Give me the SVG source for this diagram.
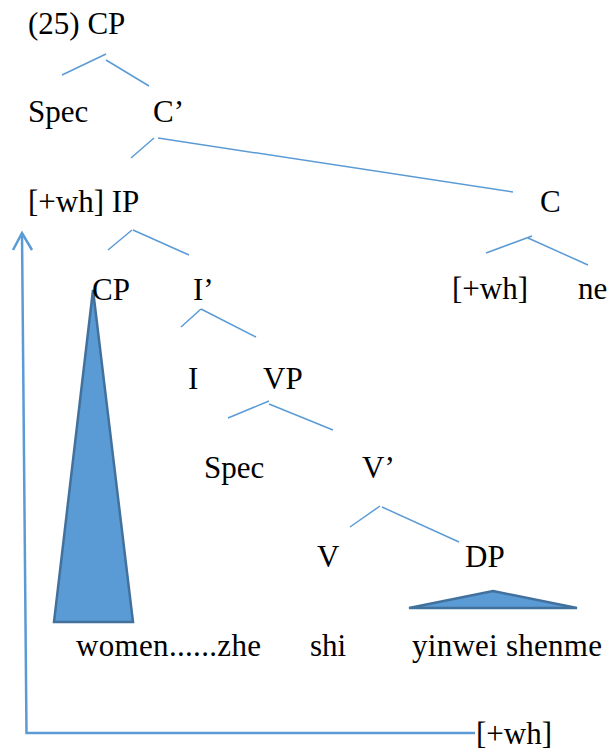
<svg xmlns="http://www.w3.org/2000/svg" width="608" height="751" viewBox="0 0 608 751">
<style>
text{font-family:"Liberation Serif","Times New Roman",serif;font-size:31px;fill:#000}
.br{stroke:#5b9bd5;stroke-width:1.5;fill:none}
.tri{fill:#5b9bd5;stroke:#41719c;stroke-width:2.5;stroke-linejoin:miter}
.mv{stroke:#5b9bd5;stroke-width:2.5;fill:none}
</style>
<rect width="608" height="751" fill="#fff"/>
<g id="connectors">
<line class="br" x1="62" y1="75" x2="106" y2="54"/>
<line class="br" x1="106" y1="60" x2="149" y2="86"/>
<line class="br" x1="131" y1="158" x2="154" y2="138"/>
<line class="br" x1="158" y1="138" x2="513" y2="192"/>
<line class="br" x1="108" y1="250" x2="132" y2="230"/>
<line class="br" x1="133" y1="230" x2="189" y2="255"/>
<line class="br" x1="486" y1="253" x2="532" y2="236"/>
<line class="br" x1="528" y1="238" x2="588" y2="265"/>
<line class="br" x1="181" y1="327" x2="201" y2="309"/>
<line class="br" x1="201" y1="309" x2="256" y2="337"/>
<line class="br" x1="228" y1="418" x2="269" y2="401"/>
<line class="br" x1="269" y1="404" x2="333" y2="430"/>
<line class="br" x1="350" y1="527" x2="380" y2="506"/>
<line class="br" x1="382" y1="507" x2="459" y2="542"/>
<polygon class="tri" points="93,290 133,622 54,622"/>
<polygon class="tri" points="493,591 577,608 409,608"/>
<polyline class="mv" points="22,233 26.5,733 475,733"/>
<polyline class="mv" points="13,250 22,233 32,250"/>
</g>
<g id="n-cp-top"><text x="28" y="34">(25) CP</text></g>
<g id="n-spec1"><text x="28" y="122">Spec</text></g>
<g id="n-cbar"><text x="153" y="122">C’</text></g>
<g id="n-ip"><text x="28" y="212">[+wh] IP</text></g>
<g id="n-c"><text x="540" y="212">C</text></g>
<g id="n-cp2"><text x="92" y="300">CP</text></g>
<g id="n-ibar"><text x="193" y="300">I’</text></g>
<g id="n-wh1"><text x="452" y="299">[+wh]</text></g>
<g id="n-ne"><text x="578" y="299">ne</text></g>
<g id="n-i"><text x="188" y="389">I</text></g>
<g id="n-vp"><text x="263" y="389">VP</text></g>
<g id="n-spec2"><text x="204" y="478">Spec</text></g>
<g id="n-vbar"><text x="362" y="478">V’</text></g>
<g id="n-v"><text x="317" y="567">V</text></g>
<g id="n-dp"><text x="465" y="567">DP</text></g>
<g id="n-women"><text x="76" y="656" textLength="185" lengthAdjust="spacing">women......zhe</text></g>
<g id="n-shi"><text x="310" y="656">shi</text></g>
<g id="n-yinwei"><text x="412" y="656" textLength="190" lengthAdjust="spacing">yinwei shenme</text></g>
<g id="n-wh2"><text x="476" y="744">[+wh]</text></g>
</svg>
